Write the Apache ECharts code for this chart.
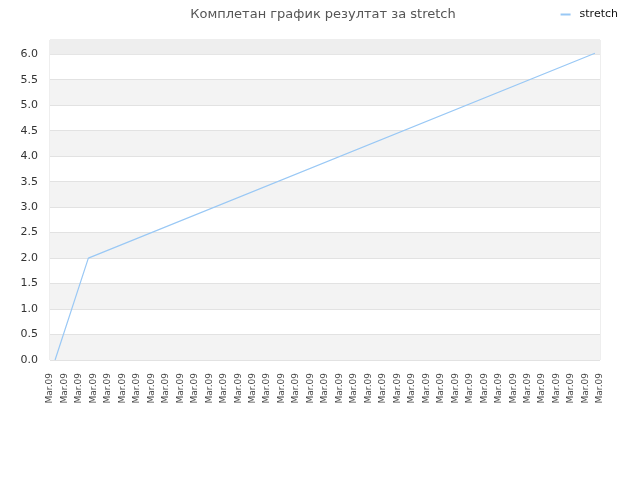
<!DOCTYPE html>
<html style="height: 100%">
  <head>
    <meta charset="utf-8" />
    <title>stretch</title>
    <script src="https://cdn.jsdelivr.net/npm/echarts@6/dist/echarts.min.js"></script>
  </head>
  <body style="height: 100%; margin: 0; background: #fff">
    <div id="main" style="width: 640px; height: 480px"></div>
    <script type="text/javascript">
      // подписи оси X (все одинаковые)
      var dates = [];
      for (var i = 0; i < 39; i++) dates.push("Mar.09");
      // точки серии: [позиция по оси X в единицах категорий, значение]
      var xPos = [0.35, 2.65, 37.65];
      var values = [0, 2.0, 6.02];
      var yTicks = [0, 0.5, 1, 1.5, 2, 2.5, 3, 3.5, 4, 4.5, 5, 5.5, 6];

      var points = [];
      for (var j = 0; j < values.length; j++) points.push([xPos[j], values[j]]);

      var myChart = echarts.init(document.getElementById("main"));
      var option = {
        animation: false,
        title: {
          text: "Комплетан график резултат за stretch",
          left: 318,
          textAlign: "center",
          top: 3,
          textStyle: { fontSize: 13, fontWeight: "normal", color: "#555", fontFamily: "DejaVu Sans" },
        },
        legend: {
          right: 17,
          top: 4,
          icon: "rect",
          itemWidth: 10,
          itemHeight: 2,
          itemGap: 4,
          textStyle: { fontSize: 11, color: "#111", fontFamily: "DejaVu Sans", padding: [0, 0, 0, 4] },
          data: ["stretch"],
        },
        grid: {
          left: 50,
          right: 40,
          top: 40,
          bottom: 120,
          show: true,
          borderColor: "#dddddd",
          borderWidth: 1,
        },
        xAxis: [
          {
            type: "category",
            data: dates,
            boundaryGap: false,
            axisLine: { show: false },
            axisTick: { show: false },
            splitLine: { show: false },
            axisLabel: {
              rotate: 90,
              interval: 0,
              margin: 13,
              fontSize: 9,
              color: "#444",
              fontFamily: "DejaVu Sans",
            },
          },
          {
            type: "value",
            min: 0,
            max: 38,
            show: false,
          },
        ],
        yAxis: {
          type: "value",
          min: 0,
          max: 6.28,
          interval: 0.5,
          axisLine: { show: false },
          axisTick: { show: false },
          axisLabel: {
            margin: 12,
            fontSize: 11,
            color: "#333",
            fontFamily: "DejaVu Sans",
            formatter: function (v) {
              for (var k = 0; k < yTicks.length; k++) {
                if (Math.abs(yTicks[k] - v) < 1e-6) return v.toFixed(1);
              }
              return "";
            },
          },
          splitLine: { show: true, lineStyle: { color: "#e2e2e2" } },
          splitArea: { show: true, areaStyle: { color: ["#f3f3f3", "#ffffff"] } },
        },
        series: [
          {
            name: "stretch",
            type: "line",
            xAxisIndex: 1,
            data: points,
            symbol: "none",
            lineStyle: { color: "#99c8f5", width: 1.2 },
            itemStyle: { color: "#99c8f5" },
            markArea: {
              silent: true,
              itemStyle: { color: "#eeeeee" },
              data: [[{ yAxis: 6.0 }, { yAxis: 6.28 }]],
            },
          },
        ],
      };
      myChart.setOption(option, true);
    </script>
  </body>
</html>
